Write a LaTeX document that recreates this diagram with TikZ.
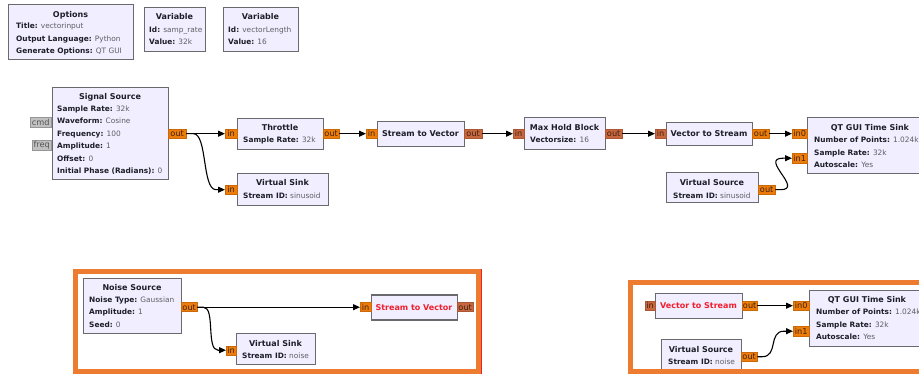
\documentclass[tikz,border=0pt]{standalone}
\usepackage{fontspec}
\setmainfont{DejaVu Sans}
\usetikzlibrary{arrows.meta}

\definecolor{blkfill}{RGB}{240,238,255}
\definecolor{blkline}{RGB}{105,105,110}
\definecolor{keyblack}{RGB}{30,30,40}
\definecolor{valgrey}{RGB}{95,95,100}
\definecolor{portorange}{RGB}{238,124,10}
\definecolor{portbrown}{RGB}{200,102,62}
\definecolor{porttext}{RGB}{60,35,20}
\definecolor{msgfill}{RGB}{192,192,192}
\definecolor{msgline}{RGB}{150,150,150}
\definecolor{msgtext}{RGB}{85,85,85}
\definecolor{frameorange}{RGB}{237,123,48}
\definecolor{disabledred}{RGB}{240,30,45}

\newcommand\pk[1]{\textbf{#1}}
\newcommand\pval[1]{\textcolor{valgrey}{#1}}

\tikzset{
  blk/.style={draw=blkline, fill=blkfill, line width=1.3pt, anchor=north west, inner sep=0pt},
  ttl/.style={anchor=base, inner sep=0pt, font=\fontsize{8}{9}\selectfont\bfseries, text=keyblack},
  prm/.style={anchor=base west, inner sep=0pt, font=\fontsize{7.4}{9}\selectfont, text=keyblack},
  port/.style={anchor=north west, inner sep=0pt, font=\fontsize{8.2}{8}\selectfont, line width=0.4pt},
  pfl/.style={port, fill=portorange, draw=portorange!85!black, text=porttext},
  pvec/.style={port, fill=portbrown, draw=portbrown!85!black, text=porttext},
  pmsg/.style={port, fill=msgfill, draw=msgline, text=msgtext},
  wire/.style={draw=black, line width=1.1pt, -{Triangle[length=7pt,width=6pt]}},
  frame/.style={draw=frameorange, line width=5pt}
}

\begin{document}
\begin{tikzpicture}[x=1pt,y=-1pt]
\useasboundingbox (0,0) rectangle (919,374);
\fill[white] (0,0) rectangle (919,374);
\clip (0,0) rectangle (919,374);

% ---------- Options and variables ----------
\node[blk, minimum width=125pt, minimum height=55pt] (opt) at (8,4) {};
\node[ttl] (opt-t) at (70.5,17.5) {Options};
\node[prm] (opt-1) at (16,29) {\pk{Title:} \pval{vectorinput}};
\node[prm] (opt-2) at (16,41.5) {\pk{Output Language:} \pval{Python}};
\node[prm] (opt-3) at (16,54) {\pk{Generate Options:} \pval{QT GUI}};

\node[blk, minimum width=61pt, minimum height=44pt] (var1) at (144,7) {};
\node[ttl] (var1-t) at (174.5,20) {Variable};
\node[prm] (var1-1) at (149,32.5) {\pk{Id:} \pval{samp\_rate}};
\node[prm] (var1-2) at (149,45) {\pk{Value:} \pval{32k}};

\node[blk, minimum width=75pt, minimum height=44pt] (var2) at (223,7) {};
\node[ttl] (var2-t) at (260.5,20) {Variable};
\node[prm] (var2-1) at (228,32.5) {\pk{Id:} \pval{vectorLength}};
\node[prm] (var2-2) at (228,45) {\pk{Value:} \pval{16}};

% ---------- Upper flow graph ----------
\node[blk, minimum width=116pt, minimum height=92pt] (sig) at (52,87) {};
\node[ttl] (sig-t) at (110,100) {Signal Source};
\node[prm] (sig-1) at (57,111.5) {\pk{Sample Rate:} \pval{32k}};
\node[prm] (sig-2) at (57,124) {\pk{Waveform:} \pval{Cosine}};
\node[prm] (sig-3) at (57,136.5) {\pk{Frequency:} \pval{100}};
\node[prm] (sig-4) at (57,149) {\pk{Amplitude:} \pval{1}};
\node[prm] (sig-5) at (57,161.5) {\pk{Offset:} \pval{0}};
\node[prm] (sig-6) at (57,174) {\pk{Initial Phase (Radians):} \pval{0}};
\node[pmsg, minimum width=21pt, minimum height=10pt] (sig-cmd) at (30,117.5) {cmd};
\node[pmsg, minimum width=19pt, minimum height=10pt] (sig-freq) at (32,140) {freq};
\node[pfl, minimum width=18pt, minimum height=9pt] (sig-out) at (168,129) {out};

\node[blk, minimum width=86pt, minimum height=31pt] (thr) at (237,118) {};
\node[ttl] (thr-t) at (280,130.5) {Throttle};
\node[prm] (thr-1) at (243,143) {\pk{Sample Rate:} \pval{32k}};
\node[pfl, minimum width=12pt, minimum height=9pt] (thr-in) at (225,129) {in};
\node[pfl, minimum width=16pt, minimum height=9pt] (thr-out) at (323,129) {out};

\node[blk, minimum width=91pt, minimum height=32pt] (vsk1) at (237,173) {};
\node[ttl] (vsk1-t) at (282.5,186) {Virtual Sink};
\node[prm] (vsk1-1) at (243,198.5) {\pk{Stream ID:} \pval{sinusoid}};
\node[pfl, minimum width=12pt, minimum height=9pt] (vsk1-in) at (225,185) {in};

\node[blk, minimum width=87pt, minimum height=25pt] (stv1) at (377,121) {};
\node[ttl] (stv1-t) at (420.5,136.5) {Stream to Vector};
\node[pfl, minimum width=11pt, minimum height=9pt] (stv1-in) at (366,129) {in};
\node[pvec, minimum width=18pt, minimum height=9pt] (stv1-out) at (464,129) {out};

\node[blk, minimum width=81pt, minimum height=32pt] (mhb) at (524,117) {};
\node[ttl] (mhb-t) at (564.5,130.5) {Max Hold Block};
\node[prm] (mhb-1) at (530,142.5) {\pk{Vectorsize:} \pval{16}};
\node[pvec, minimum width=11pt, minimum height=9pt] (mhb-in) at (513,129) {in};
\node[pvec, minimum width=17pt, minimum height=9pt] (mhb-out) at (605,129) {out};

\node[blk, minimum width=86pt, minimum height=23pt] (vts1) at (666,122) {};
\node[ttl] (vts1-t) at (709,136.5) {Vector to Stream};
\node[pvec, minimum width=11pt, minimum height=9pt] (vts1-in) at (655,129) {in};
\node[pfl, minimum width=17pt, minimum height=9pt] (vts1-out) at (752,129) {out};

\node[blk, minimum width=130pt, minimum height=56pt] (qt1) at (807,117) {};
\node[ttl] (qt1-t) at (870,130.5) {QT GUI Time Sink};
\node[prm] (qt1-1) at (814,143) {\pk{Number of Points:} \pval{1.024k}};
\node[prm] (qt1-2) at (814,155.5) {\pk{Sample Rate:} \pval{32k}};
\node[prm] (qt1-3) at (814,168) {\pk{Autoscale:} \pval{Yes}};
\node[pfl, minimum width=15pt, minimum height=9pt] (qt1-in0) at (792,129) {in0};
\node[pfl, minimum width=15pt, minimum height=10pt] (qt1-in1) at (792,153) {in1};

\node[blk, minimum width=92pt, minimum height=30pt] (vsr1) at (666,172) {};
\node[ttl] (vsr1-t) at (712,186) {Virtual Source};
\node[prm] (vsr1-1) at (673,198.5) {\pk{Stream ID:} \pval{sinusoid}};
\node[pfl, minimum width=17pt, minimum height=9pt] (vsr1-out) at (758,185) {out};

\draw[wire] (sig-out.east) -- (thr-in.west);
\draw[wire] (sig-out.east) -- ++(7,0) .. controls +(14,0) and +(-14,0) .. ([xshift=-9pt]vsk1-in.west) -- (vsk1-in.west);
\draw[wire] (thr-out.east) -- (stv1-in.west);
\draw[wire] (stv1-out.east) -- (mhb-in.west);
\draw[wire] (mhb-out.east) -- (vts1-in.west);
\draw[wire] (vts1-out.east) -- (qt1-in0.west);
\draw[wire] (vsr1-out.east) -- ++(5,0) .. controls +(24,0) and +(-24,0) .. ([xshift=-9pt]qt1-in1.west) -- (qt1-in1.west);

% ---------- Lower left group ----------
\node[blk, minimum width=98pt, minimum height=55pt] (nse) at (83,278) {};
\node[ttl] (nse-t) at (132,290.5) {Noise Source};
\node[prm] (nse-1) at (89,302.5) {\pk{Noise Type:} \pval{Gaussian}};
\node[prm] (nse-2) at (89,315) {\pk{Amplitude:} \pval{1}};
\node[prm] (nse-3) at (89,327.5) {\pk{Seed:} \pval{0}};
\node[pfl, minimum width=16pt, minimum height=9pt] (nse-out) at (181,302.5) {out};

\node[blk, minimum width=79pt, minimum height=31pt] (vsk2) at (236,333) {};
\node[ttl] (vsk2-t) at (275.5,346) {Virtual Sink};
\node[prm] (vsk2-1) at (242,358.5) {\pk{Stream ID:} \pval{noise}};
\node[pfl, minimum width=10pt, minimum height=9pt] (vsk2-in) at (226,345.5) {in};

\node[blk, minimum width=86pt, minimum height=25pt] (stv2) at (371,294.5) {};
\node[ttl, text=disabledred] (stv2-t) at (414,310) {Stream to Vector};
\node[pfl, minimum width=11pt, minimum height=9pt] (stv2-in) at (360,302.5) {in};
\node[pvec, minimum width=16pt, minimum height=9pt] (stv2-out) at (457,302.5) {out};

\draw[wire] (nse-out.east) -- (stv2-in.west);
\draw[wire] (nse-out.east) -- ++(6,0) .. controls +(12,0) and +(-12,0) .. ([xshift=-8pt]vsk2-in.west) -- (vsk2-in.west);

% ---------- Lower right group ----------
\node[blk, minimum width=87pt, minimum height=25pt] (vts2) at (655,293) {};
\node[ttl, text=disabledred] (vts2-t) at (698.5,308.5) {Vector to Stream};
\node[pvec, minimum width=10pt, minimum height=9pt] (vts2-in) at (645,301) {in};
\node[pfl, minimum width=15pt, minimum height=9pt] (vts2-out) at (742,301) {out};

\node[blk, minimum width=130pt, minimum height=56pt] (qt2) at (809,290) {};
\node[ttl] (qt2-t) at (867,302.5) {QT GUI Time Sink};
\node[prm] (qt2-1) at (816,315) {\pk{Number of Points:} \pval{1.024k}};
\node[prm] (qt2-2) at (816,327.5) {\pk{Sample Rate:} \pval{32k}};
\node[prm] (qt2-3) at (816,340) {\pk{Autoscale:} \pval{Yes}};
\node[pfl, minimum width=16pt, minimum height=9pt] (qt2-in0) at (793,301) {in0};
\node[pfl, minimum width=16pt, minimum height=9pt] (qt2-in1) at (793,326.5) {in1};

\node[blk, minimum width=80pt, minimum height=40pt] (vsr2) at (661,339) {};
\node[ttl] (vsr2-t) at (701,352.5) {Virtual Source};
\node[prm] (vsr2-1) at (668,364.5) {\pk{Stream ID:} \pval{noise}};
\node[pfl, minimum width=16pt, minimum height=9pt] (vsr2-out) at (741,352) {out};

\draw[wire] (vts2-out.east) -- (qt2-in0.west);
\draw[wire] (vsr2-out.east) -- ++(5,0) .. controls +(16,0) and +(-16,0) .. ([xshift=-9pt]qt2-in1.west) -- (qt2-in1.west);

% ---------- Selection frames ----------
\draw[frame] (75.5,271.5) rectangle (478.5,371);
\draw[disabledred, line width=0.8pt] (481.5,269) -- (481.5,374);
\draw[frame] (630,282.5) rectangle (935,371);
\end{tikzpicture}
\end{document}
